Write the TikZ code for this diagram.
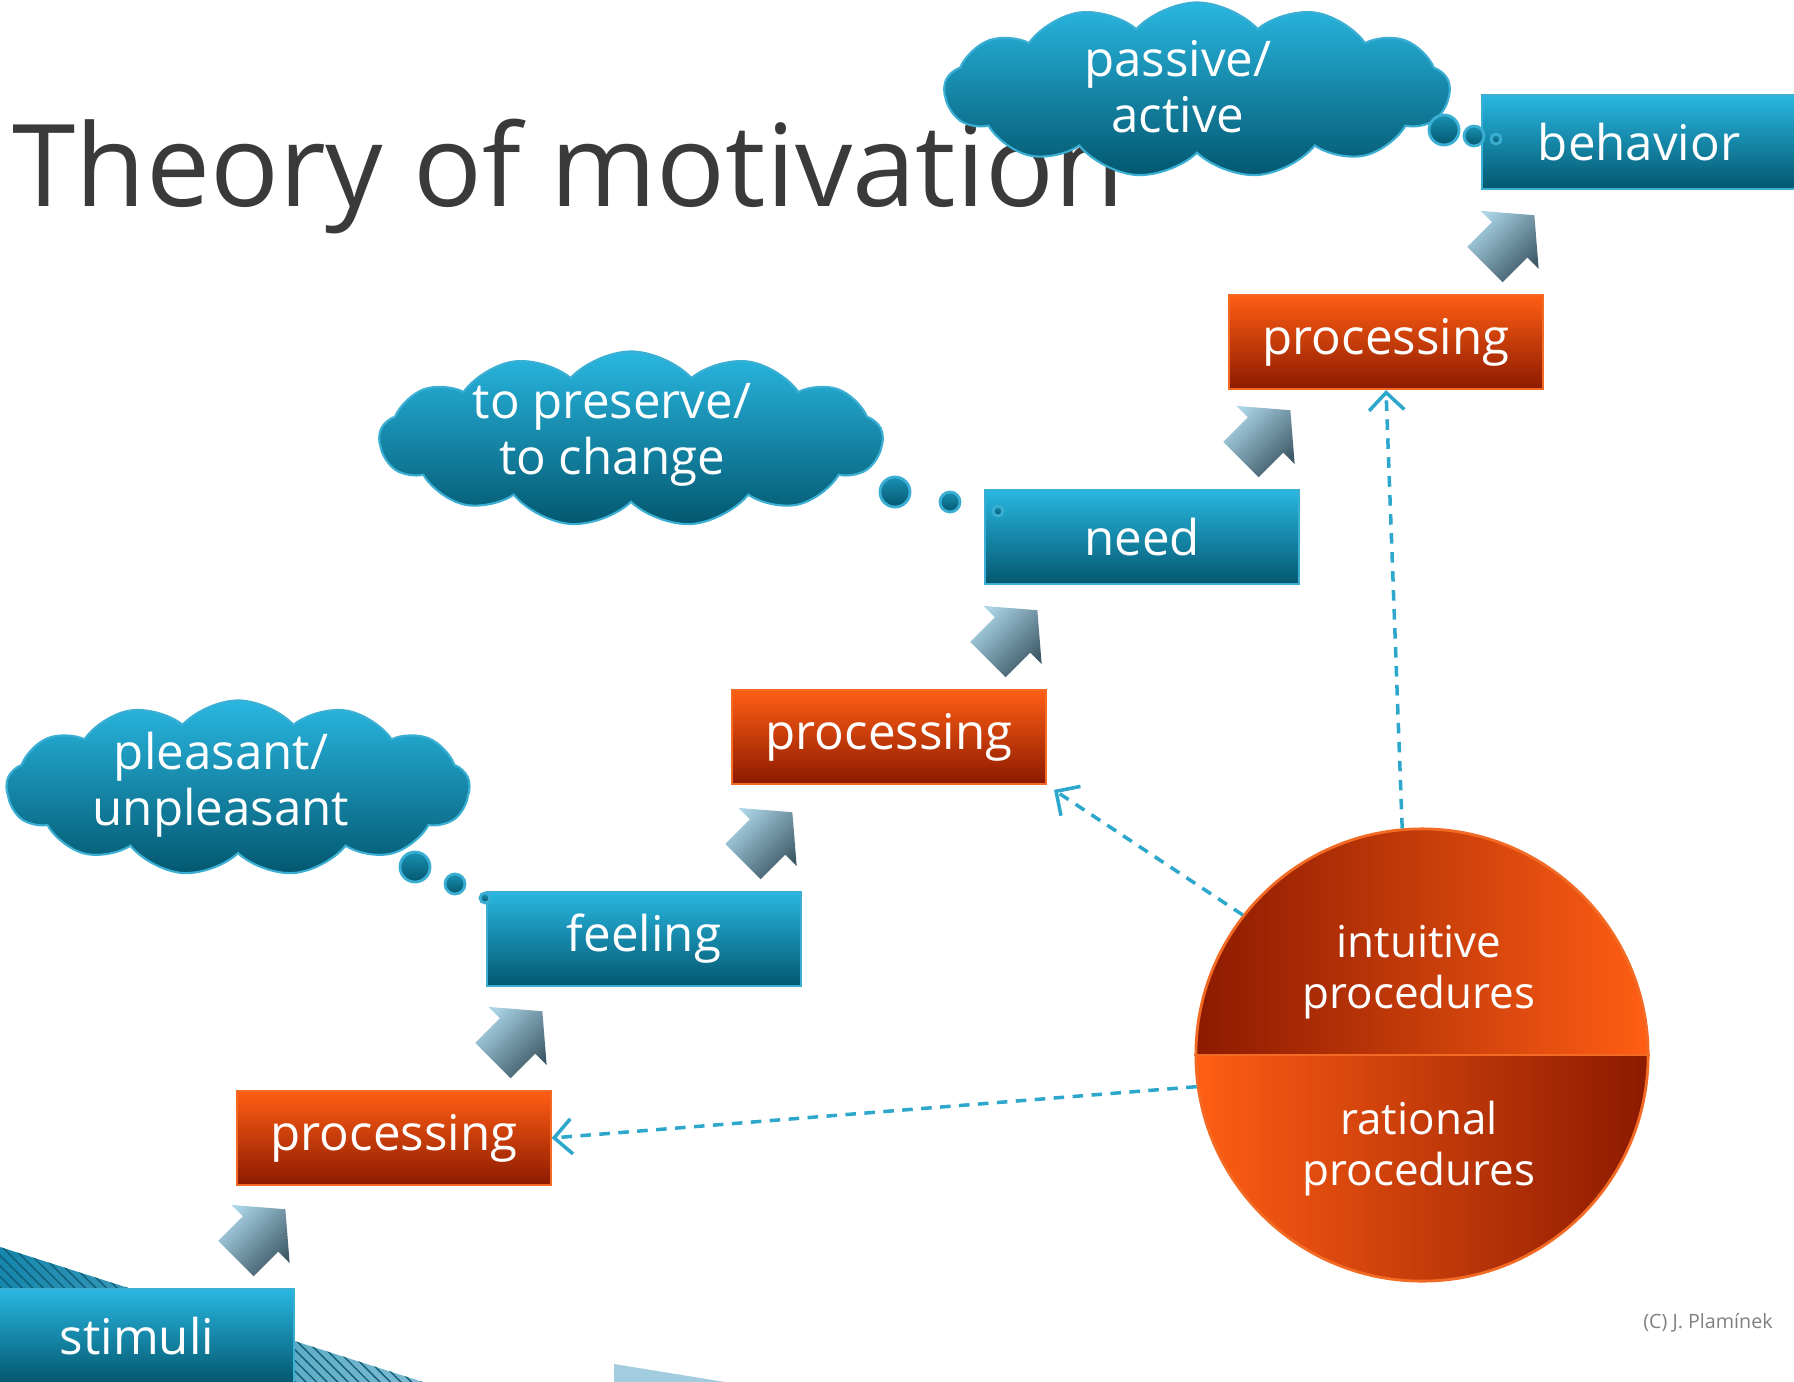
\documentclass[tikz,border=0pt]{standalone}
\usepackage{fontspec}
\setmainfont{Open Sans}
\usetikzlibrary{shapes.symbols,arrows.meta,calc,patterns}
\definecolor{boxtop}{HTML}{29B7E1}
\definecolor{boxbot}{HTML}{03576F}
\definecolor{boxedge}{HTML}{3AAFD3}
\definecolor{redtop}{HTML}{FF5E14}
\definecolor{redbot}{HTML}{8C1A00}
\definecolor{redge}{HTML}{F26A24}
\definecolor{arrowlight}{HTML}{AAD4E6}
\definecolor{arrowdark}{HTML}{3D5866}
\definecolor{linkblue}{HTML}{2EA7CC}
\definecolor{titlegray}{HTML}{3A3A3A}
\definecolor{teal}{HTML}{1686AC}
\definecolor{paleteal}{HTML}{A3CCDF}
\tikzset{
	blueblock/.style={rectangle, draw=boxedge, line width=0.6pt, top color=boxtop, bottom color=boxbot, text=white,
		minimum width=3.13cm, minimum height=0.94cm, inner sep=0pt, font=\fontsize{14}{16}\selectfont},
	redblock/.style={blueblock, draw=redge, top color=redtop, bottom color=redbot},
	thought/.style={cloud, cloud puffs=13, cloud puff arc=95, aspect=2.8, draw=boxedge, line width=0.6pt,
		top color=boxtop, bottom color=boxbot, inner sep=0pt},
	thoughttext/.style={text=white, align=center, inner sep=0pt, font=\fontsize{14}{16}\selectfont},
	bubble/.style={draw=boxedge, line width=0.8pt, top color=boxtop!60!boxbot, bottom color=boxbot},
	dashlink/.style={draw=linkblue, line width=1pt, dash pattern=on 3pt off 2.4pt,
		-{Straight Barb[length=5pt,width=10pt]}},
	pics/stepup/.style={code={
		\shade[top color=arrowlight, bottom color=arrowdark, shading angle=45]
			(24.7,-24.7) -- (29,29) -- (17.7,17.7) -- (-7,42.4) -- (-42.4,7) -- (-17.7,-17.7) -- (-29,-29) -- cycle;
	}},
}
\begin{document}
\begin{tikzpicture}[x=0.01cm,y=-0.01cm]
	\useasboundingbox (0,0) rectangle (1794,1382);
	%BACKGROUND WEDGES
	\shade[left color=teal, right color=teal!55] (0,1247) -- (423,1382) -- (0,1382) -- cycle;
	\path[pattern=north west lines, pattern color=teal!70!black] (0,1247) -- (423,1382) -- (0,1382) -- cycle;
	\fill[paleteal] (614,1364) -- (725,1382) -- (614,1382) -- cycle;
	%TITLE
	\node[anchor=base west, inner sep=0pt, text=titlegray, font=\fontsize{32.5}{36}\selectfont] (title) at (12,207) {Theory of motivation};
	%STAIRCASE
	\node[blueblock] (stimuli) at (137,1336) {stimuli};
	\node[redblock] (proc1) at (394,1138) {processing};
	\node[blueblock] (feeling) at (644,939) {feeling};
	\node[redblock] (proc2) at (889,737) {processing};
	\node[blueblock] (need) at (1142,537) {need};
	\node[redblock] (proc3) at (1386,342) {processing};
	\node[blueblock] (behavior) at (1639,142) {behavior};
	%ARROWS
	\foreach \low in {stimuli,proc1,feeling,proc2,need,proc3}
		\pic at ($(\low.north east)+(-34,-54)$) {stepup};
	%CLOUDS
	\node[thought, minimum width=4.63cm, minimum height=1.75cm] (feel) at (238,788) {};
	\node[thoughttext] (feeltext) at (221,785) {pleasant/\\unpleasant};
	\node[thought, minimum width=5.03cm, minimum height=1.75cm] (want) at (631,439) {};
	\node[thoughttext] (wanttext) at (612,435) {to preserve/\\to change};
	\node[thought, minimum width=5.05cm, minimum height=1.75cm] (act) at (1197,90) {};
	\node[thoughttext] (acttext) at (1178,87) {passive/\\active};
	%BUBBLES
	\shade[bubble] (415,867) circle (15);
	\shade[bubble] (455,884) circle (10);
	\shade[bubble] (485,898) circle (5);
	\shade[bubble] (895,492) circle (15);
	\shade[bubble] (950,502) circle (10);
	\shade[bubble] (998,511) circle (5);
	\shade[bubble] (1444,130) circle (15);
	\shade[bubble] (1474,136) circle (10);
	\shade[bubble] (1496,139) circle (5);
	%PROCEDURES
	\shade[left color=redbot, right color=redtop] (1196,1055) arc[start angle=180, end angle=360, radius=226] -- cycle;
	\shade[left color=redtop, right color=redbot] (1196,1055) arc[start angle=180, end angle=0, radius=226] -- cycle;
	\node[circle, draw=redge, line width=0.8pt, minimum size=4.52cm, inner sep=0pt] (methods) at (1422,1055) {};
	\draw[redge, line width=0.6pt] (methods.west) -- (methods.east);
	\node[text=white, align=center, font=\fontsize{12.5}{14.5}\selectfont] (intuitive) at (1419,972) {intuitive\\procedures};
	\node[text=white, align=center, font=\fontsize{12.5}{14.5}\selectfont] (rational) at (1419,1149) {rational\\procedures};
	\draw[dashlink] (methods.95) -- (proc3.south);
	\draw[dashlink, shorten >=2.5pt] (methods.142) -- (proc2.south east);
	\draw[dashlink] (methods.188) -- (proc1.east);
	%CREDIT
	\node[text=gray, font=\fontsize{5.6}{7}\selectfont] (credit) at (1708,1323) {(C) J. Plamínek};
\end{tikzpicture}
\end{document}
